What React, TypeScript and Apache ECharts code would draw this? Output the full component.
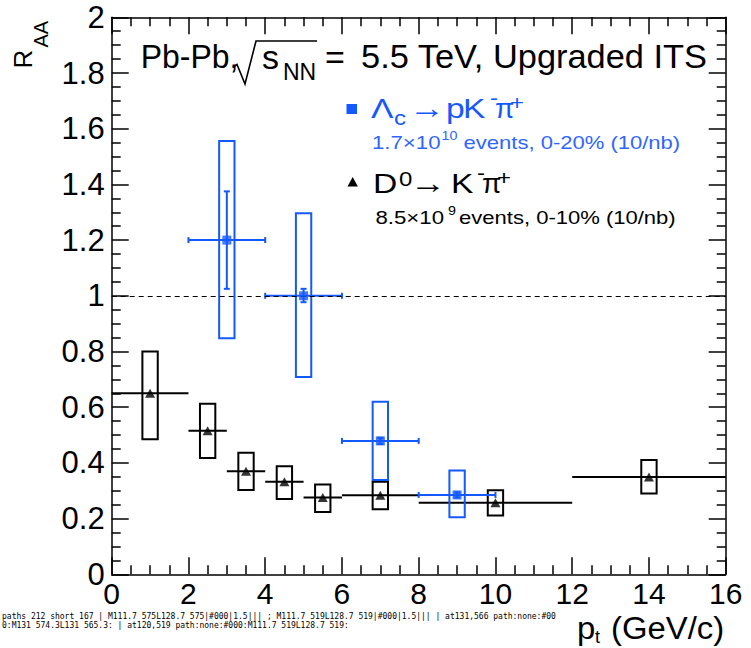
import React, { useEffect, useRef, useState } from "react";
import * as echarts from "echarts";

// ---------------- data ----------------
const xTickValues = [0, 2, 4, 6, 8, 10, 12, 14, 16];
const yTickValues = [0, 0.2, 0.4, 0.6, 0.8, 1, 1.2, 1.4, 1.6, 1.8, 2];

// D0 -> K- pi+
const d0X = [1, 2.5, 3.5, 4.5, 5.5, 7, 10, 14];
const d0XLo = [0, 2, 3, 4, 5, 6, 8, 12];
const d0XHi = [2, 3, 4, 5, 6, 8, 12, 16];
const d0Y = [0.65, 0.515, 0.37, 0.332, 0.276, 0.284, 0.257, 0.349];
const d0SystLo = [0.485, 0.418, 0.303, 0.27, 0.224, 0.234, 0.211, 0.29];
const d0SystHi = [0.8, 0.612, 0.436, 0.388, 0.322, 0.332, 0.302, 0.41];

// Lambda_c -> p K- pi+
const lcX = [3, 5, 7, 9];
const lcXLo = [2, 4, 6, 8];
const lcXHi = [4, 6, 8, 10];
const lcY = [1.2, 1.0, 0.479, 0.285];
const lcStatLo = [1.025, 0.977, 0.468, 0.276];
const lcStatHi = [1.375, 1.025, 0.49, 0.294];
const lcSystLo = [0.848, 0.708, 0.339, 0.205];
const lcSystHi = [1.556, 1.296, 0.62, 0.373];

const referenceLevel = 1;

// ---------------- style ----------------
const FONT = "'Liberation Sans', Arial, Helvetica, sans-serif";
const BLUE = "#1459ff";
const BLUE_LIGHT = "#2f66ff";
const BLACK = "#000";
const SYST_HW = 0.2;
const MAJOR_LEN = 17;
const MINOR_LEN = 9;

function txt(t: string, x: number, base: number, s: number, color: string, sx = 1) {
  return {
    type: "text",
    x,
    y: base - 0.3465 * s,
    scaleX: sx,
    style: { text: t, fontSize: s, fontFamily: FONT, fill: color, align: "left", verticalAlign: "middle" },
  };
}

function rtxt(t: string, baseX: number, y: number, s: number, color: string) {
  return {
    type: "text",
    x: baseX - 0.3465 * s,
    y,
    rotation: Math.PI / 2,
    style: { text: t, fontSize: s, fontFamily: FONT, fill: color, align: "left", verticalAlign: "middle" },
  };
}

function boxRender(color: string) {
  return (_p: any, api: any) => {
    const x = api.value(0);
    const lo = api.value(1);
    const hi = api.value(2);
    const p1 = api.coord([x - SYST_HW, hi]);
    const p2 = api.coord([x + SYST_HW, lo]);
    return {
      type: "rect",
      shape: { x: p1[0], y: p1[1], width: p2[0] - p1[0], height: p2[1] - p1[1] },
      style: { fill: "none", stroke: color, lineWidth: 2 },
    };
  };
}

function errRender(color: string, caps: boolean) {
  return (_p: any, api: any) => {
    const x = api.value(0);
    const y = api.value(1);
    const a = api.coord([api.value(2), y]);
    const b = api.coord([api.value(3), y]);
    const c = api.coord([x, api.value(4)]);
    const d = api.coord([x, api.value(5)]);
    const hasV = Math.abs(c[1] - d[1]) > 0.5;
    const ln = (x1: number, y1: number, x2: number, y2: number) => ({
      type: "line",
      shape: { x1, y1, x2, y2 },
      style: { stroke: color, lineWidth: 2 },
    });
    const children: any[] = [ln(a[0], a[1], b[0], b[1])];
    if (hasV) children.push(ln(c[0], c[1], d[0], d[1]));
    if (caps) {
      const h = 3;
      children.push(ln(a[0], a[1] - h, a[0], a[1] + h));
      children.push(ln(b[0], b[1] - h, b[0], b[1] + h));
      if (hasV) {
        children.push(ln(c[0] - h, c[1], c[0] + h, c[1]));
        children.push(ln(d[0] - h, d[1], d[0] + h, d[1]));
      }
    }
    return { type: "group", children };
  };
}

function axisCfg(position: string, showLabel: boolean, labelExtra: any) {
  return {
    position,
    axisLine: { show: true, onZero: false, lineStyle: { color: BLACK, width: 1.5 } },
    axisTick: { show: true, inside: true, length: MAJOR_LEN, lineStyle: { color: BLACK, width: 1.5 } },
    minorTick: { show: true, splitNumber: 4, length: MINOR_LEN, lineStyle: { color: BLACK, width: 1.5 } },
    splitLine: { show: false },
    axisLabel: showLabel ? { show: true, color: BLACK, fontFamily: FONT, ...labelExtra } : { show: false },
  };
}

export default function App() {
  const ref = useRef<HTMLDivElement>(null);
  const [info, setInfo] = useState("");

  useEffect(() => {
    if (!ref.current) return;
    const chart = echarts.init(ref.current, undefined, { renderer: "svg" });

    const d0Box = d0X.map((x, i) => [x, d0SystLo[i], d0SystHi[i]]);
    const d0Err = d0X.map((x, i) => [x, d0Y[i], d0XLo[i], d0XHi[i], d0Y[i], d0Y[i]]);
    const d0Pts = d0X.map((x, i) => [x, d0Y[i]]);
    const lcBox = lcX.map((x, i) => [x, lcSystLo[i], lcSystHi[i]]);
    const lcErr = lcX.map((x, i) => [x, lcY[i], lcXLo[i], lcXHi[i], lcStatLo[i], lcStatHi[i]]);
    const lcPts = lcX.map((x, i) => [x, lcY[i]]);

    const textGraphics: any[] = [
      rtxt("R", 31.7, 68.5, 26, BLACK),
      rtxt("AA", 48, 47.5, 20, BLACK),
      txt("p", 577, 639.5, 31, BLACK, 1.06),
      txt("t", 595, 643.5, 18, BLACK),
      txt("(GeV/c)", 611, 639.5, 31, BLACK, 1.06),
      txt("Pb-Pb,", 140.7, 68.3, 34, BLACK, 0.94),
      {
        type: "polyline",
        shape: { points: [[233, 67], [237, 64.5], [245, 84], [256, 41], [317, 41]] },
        style: { stroke: BLACK, lineWidth: 1.6, fill: "none" },
      },
      txt("s", 262, 68.3, 34, BLACK),
      txt("NN", 283, 80, 23, BLACK),
      txt("=", 325, 68.3, 34, BLACK),
      txt("5.5 TeV, Upgraded ITS", 361, 68.3, 34, BLACK, 1.012),
      { type: "rect", shape: { x: 346.5, y: 104, width: 10.5, height: 10 }, style: { fill: BLUE } },
      txt("Λ", 371, 118, 28, BLUE, 1.2),
      txt("c", 394, 125, 20, BLUE, 1.2),
      txt("→", 409, 118, 30, BLUE, 1.2),
      txt("p", 446, 118, 28, BLUE, 1.2),
      txt("K", 463, 118, 28, BLUE, 1.2),
      txt("-", 490, 105, 20, BLUE, 1.2),
      txt("π", 495, 118, 28, BLUE),
      txt("+", 510, 110, 20, BLUE, 1.2),
      txt("1.7×10", 372, 149, 19, BLUE_LIGHT, 1.17),
      txt("10", 441.5, 140, 13, BLUE_LIGHT, 1.1),
      txt("events, 0-20% (10/nb)", 463.5, 149, 19, BLUE_LIGHT, 1.16),
      { type: "polygon", shape: { points: [[347.5, 186.5], [352.7, 177], [357.9, 186.5]] }, style: { fill: BLACK } },
      txt("D", 373, 193.3, 28, BLACK, 1.2),
      txt("0", 399, 186, 20, BLACK, 1.2),
      txt("→", 410, 193.3, 30, BLACK, 1.2),
      txt("K", 451, 193.3, 28, BLACK, 1.2),
      txt("-", 477, 180, 20, BLACK, 1.2),
      txt("π", 482, 193.3, 28, BLACK),
      txt("+", 497, 185.5, 20, BLACK, 1.2),
      txt("8.5×10", 375.5, 223.3, 19, BLACK, 1.17),
      txt("9", 448, 215.5, 13, BLACK, 1.1),
      txt("events, 0-10% (10/nb)", 459, 223.3, 19, BLACK, 1.16),
    ];

    const xRange = {
      type: "value",
      min: xTickValues[0],
      max: xTickValues[xTickValues.length - 1],
      interval: xTickValues[1] - xTickValues[0],
    };
    const yRange = {
      type: "value",
      min: yTickValues[0],
      max: yTickValues[yTickValues.length - 1],
      interval: 0.2,
    };

    chart.setOption({
      animation: false,
      grid: { left: 111.7, right: 25.3, top: 17.3, bottom: 73.7 },
      xAxis: [
        { ...xRange, ...axisCfg("bottom", true, { fontSize: 30, margin: 4.5 }) },
        { ...xRange, ...axisCfg("top", false, {}) },
      ],
      yAxis: [
        {
          ...yRange,
          ...axisCfg("left", true, {
            fontSize: 31,
            margin: 7,
            formatter: (v: number) => String(Math.round(v * 10) / 10),
          }),
        },
        { ...yRange, ...axisCfg("right", false, {}) },
      ],
      graphic: textGraphics,
      series: [
        { type: "custom", name: "D0 syst", renderItem: boxRender(BLACK), encode: { x: 0, y: [1, 2] }, data: d0Box, z: 3 },
        { type: "custom", name: "D0 err", renderItem: errRender(BLACK, false), encode: { x: [0, 2, 3], y: [1, 4, 5] }, data: d0Err, z: 3 },
        { type: "custom", name: "Lc syst", renderItem: boxRender(BLUE), encode: { x: 0, y: [1, 2] }, data: lcBox, z: 4 },
        { type: "custom", name: "Lc err", renderItem: errRender(BLUE, true), encode: { x: [0, 2, 3], y: [1, 4, 5] }, data: lcErr, z: 4 },
        {
          type: "scatter",
          name: "D0",
          data: d0Pts,
          symbol: "triangle",
          symbolSize: [10, 9],
          itemStyle: { color: BLACK },
          z: 5,
          markLine: {
            silent: true,
            symbol: "none",
            label: { show: false },
            lineStyle: { color: BLACK, width: 1, type: [5, 4] },
            data: [{ yAxis: referenceLevel }],
          },
        },
        { type: "scatter", name: "Lc", data: lcPts, symbol: "rect", symbolSize: 9, itemStyle: { color: BLUE }, z: 6 },
      ],
    });

    // diagnostics: what sits on a tick pixel
    const svg = ref.current.querySelector("svg");
    const desc = (x: number, y: number) => {
      const el = document.elementFromPoint(x, y) as Element | null;
      if (!el) return "none";
      return `${el.tagName}:${el.getAttribute("fill") || ""}:${el.getAttribute("stroke") || ""}:${(el.getAttribute("d") || "").slice(0, 24)}:${el.getAttribute("opacity") || ""}`;
    };
    let shortCount = 0;
    const samples: string[] = [];
    if (svg) {
      svg.querySelectorAll("path").forEach((p) => {
        const d = p.getAttribute("d") || "";
        const m = d.match(/^M([\d.]+) ([\d.]+)L([\d.]+) ([\d.]+)$/);
        if (m) {
          const len = Math.hypot(+m[1] - +m[3], +m[2] - +m[4]);
          if (len > 5 && len < 20) {
            shortCount++;
            if (samples.length < 2) samples.push(`${d}|${p.getAttribute("stroke")}|${p.getAttribute("stroke-width")}|${p.getAttribute("opacity") || ""}|${p.getAttribute("style") || ""}|${p.getAttribute("transform") || ""}`);
          }
        }
      });
    }
    const total = svg ? svg.querySelectorAll("path").length : -1;
    setInfo(`paths ${total} short ${shortCount} | ${samples.join(" ; ")} | at131,566 ${desc(131, 566)} | at120,519 ${desc(120, 519)}`);

    return () => chart.dispose();
  }, []);

  return (
    <div>
      <div ref={ref} style={{ position: "absolute", left: 0, top: 0, width: 751, height: 648 }} />
      <div style={{ position: "absolute", left: 2, top: 612, width: 560, fontSize: 8, lineHeight: "9px", fontFamily: "monospace", wordBreak: "break-all", pointerEvents: "none" }}>{info}</div>
    </div>
  );
}
